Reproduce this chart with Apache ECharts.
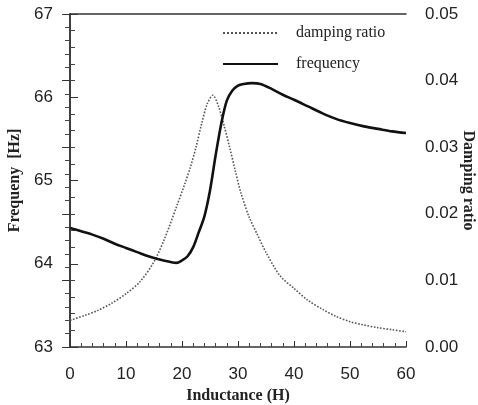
<!DOCTYPE html>
<html><head><meta charset="utf-8">
<script src="https://cdn.jsdelivr.net/npm/echarts@6/dist/echarts.min.js"></script>
<style>html,body{margin:0;padding:0;background:#fff}#c{width:478px;height:405px}</style>
</head><body><div id="c"></div>
<script>
const inductanceDamping = [0,2.5,5,7.5,10,12.5,15,17,19,20.5,21.5,22.5,23.5,24.5,25.5,26.5,27.5,28.5,29.5,30.5,32,33.5,35,37.5,40,42.5,45,47.5,50,52.5,55,57.5,60];
const dampingRatio = [0.0040,0.0047,0.0055,0.0066,0.0080,0.0098,0.0128,0.0165,0.0210,0.0245,0.0270,0.0300,0.0335,0.0365,0.0378,0.0362,0.0333,0.0300,0.0265,0.0232,0.0195,0.0168,0.0142,0.0107,0.0088,0.0070,0.0057,0.0046,0.0038,0.0033,0.0029,0.0026,0.0023];
const inductanceFreq = [0,2,4,6,8,10,12,14,16,18,19,20,21,22,23,24,25,26,27,28,29,30,31,32.5,34,36,38,40,42.5,45,47.5,50,52.5,55,57.5,60];
const frequency = [64.43,64.39,64.35,64.30,64.24,64.19,64.14,64.09,64.05,64.02,64.01,64.04,64.09,64.20,64.38,64.57,64.88,65.30,65.68,65.96,66.08,66.14,66.16,66.17,66.16,66.10,66.03,65.97,65.89,65.81,65.74,65.69,65.65,65.62,65.59,65.57];
const seriesNames = ['damping ratio','frequency'];

const chart = echarts.init(document.getElementById('c'));
const tickFont = {fontFamily:'Liberation Sans', fontSize:17, color:'#222'};
const nameFont = {fontFamily:'Liberation Serif', fontSize:16, fontWeight:'bold', color:'#222'};
const axLine = {show:true, lineStyle:{color:'#333', width:1.5}};
chart.setOption({
  animation:false,
  grid:{left:70, right:72, top:14, bottom:58, outerBoundsMode:'none', containLabel:false},
  legend:{
    left:222, top:25, padding:0, orient:'vertical', itemWidth:55, itemHeight:14, itemGap:15,
    data:seriesNames, itemStyle:{opacity:0},
    textStyle:{fontFamily:'Liberation Serif', fontSize:16, color:'#222', padding:[0,0,0,13], lineHeight:16}
  },
  xAxis:[{
    type:'value', min:0, max:60, interval:10,
    name:'Inductance (H)', nameLocation:'middle', nameGap:36, nameTextStyle:nameFont,
    axisLine:axLine, axisTick:{inside:true, length:6, lineStyle:{color:'#333'}},
    minorTick:{show:true, splitNumber:5, length:4, lineStyle:{color:'#444'}},
    axisLabel:Object.assign({margin:19}, tickFont), splitLine:{show:false}
  },{
    type:'value', position:'top', min:0, max:60, axisLine:axLine,
    axisTick:{show:false}, axisLabel:{show:false}, splitLine:{show:false}
  }],
  yAxis:[{
    type:'value', min:63, max:67, interval:1,
    name:'Frequeny  [Hz]', nameLocation:'middle', nameGap:47, nameTextStyle:nameFont,
    axisLine:axLine, axisTick:{inside:true, length:8, lineStyle:{color:'#333'}},
    minorTick:{show:true, splitNumber:5, length:5, lineStyle:{color:'#444'}},
    axisLabel:Object.assign({margin:17}, tickFont), splitLine:{show:false}
  },{
    type:'value', min:0, max:0.05, interval:0.01, position:'right',
    name:'Damping ratio', nameLocation:'middle', nameRotate:-90, nameGap:54, nameMoveOverlap:false,
    nameTextStyle:nameFont,
    axisLine:axLine, axisTick:{inside:true, length:8, lineStyle:{color:'#333'}},
    minorTick:{show:true, splitNumber:5, length:5, lineStyle:{color:'#444'}},
    axisLabel:Object.assign({margin:19, formatter:v=>v.toFixed(2)}, tickFont), splitLine:{show:false}
  }],
  series:[{
    name:seriesNames[0], type:'line', yAxisIndex:1, symbol:'none', smooth:0.3,
    data:inductanceDamping.map((x,i)=>[x,dampingRatio[i]]),
    lineStyle:{color:'#555', width:1.6, type:'dotted'}, itemStyle:{color:'#555'}
  },{
    name:seriesNames[1], type:'line', yAxisIndex:0, symbol:'none', smooth:0.3,
    data:inductanceFreq.map((x,i)=>[x,frequency[i]]),
    lineStyle:{color:'#111', width:2.6}, itemStyle:{color:'#111'}
  }]
});
</script></body></html>
